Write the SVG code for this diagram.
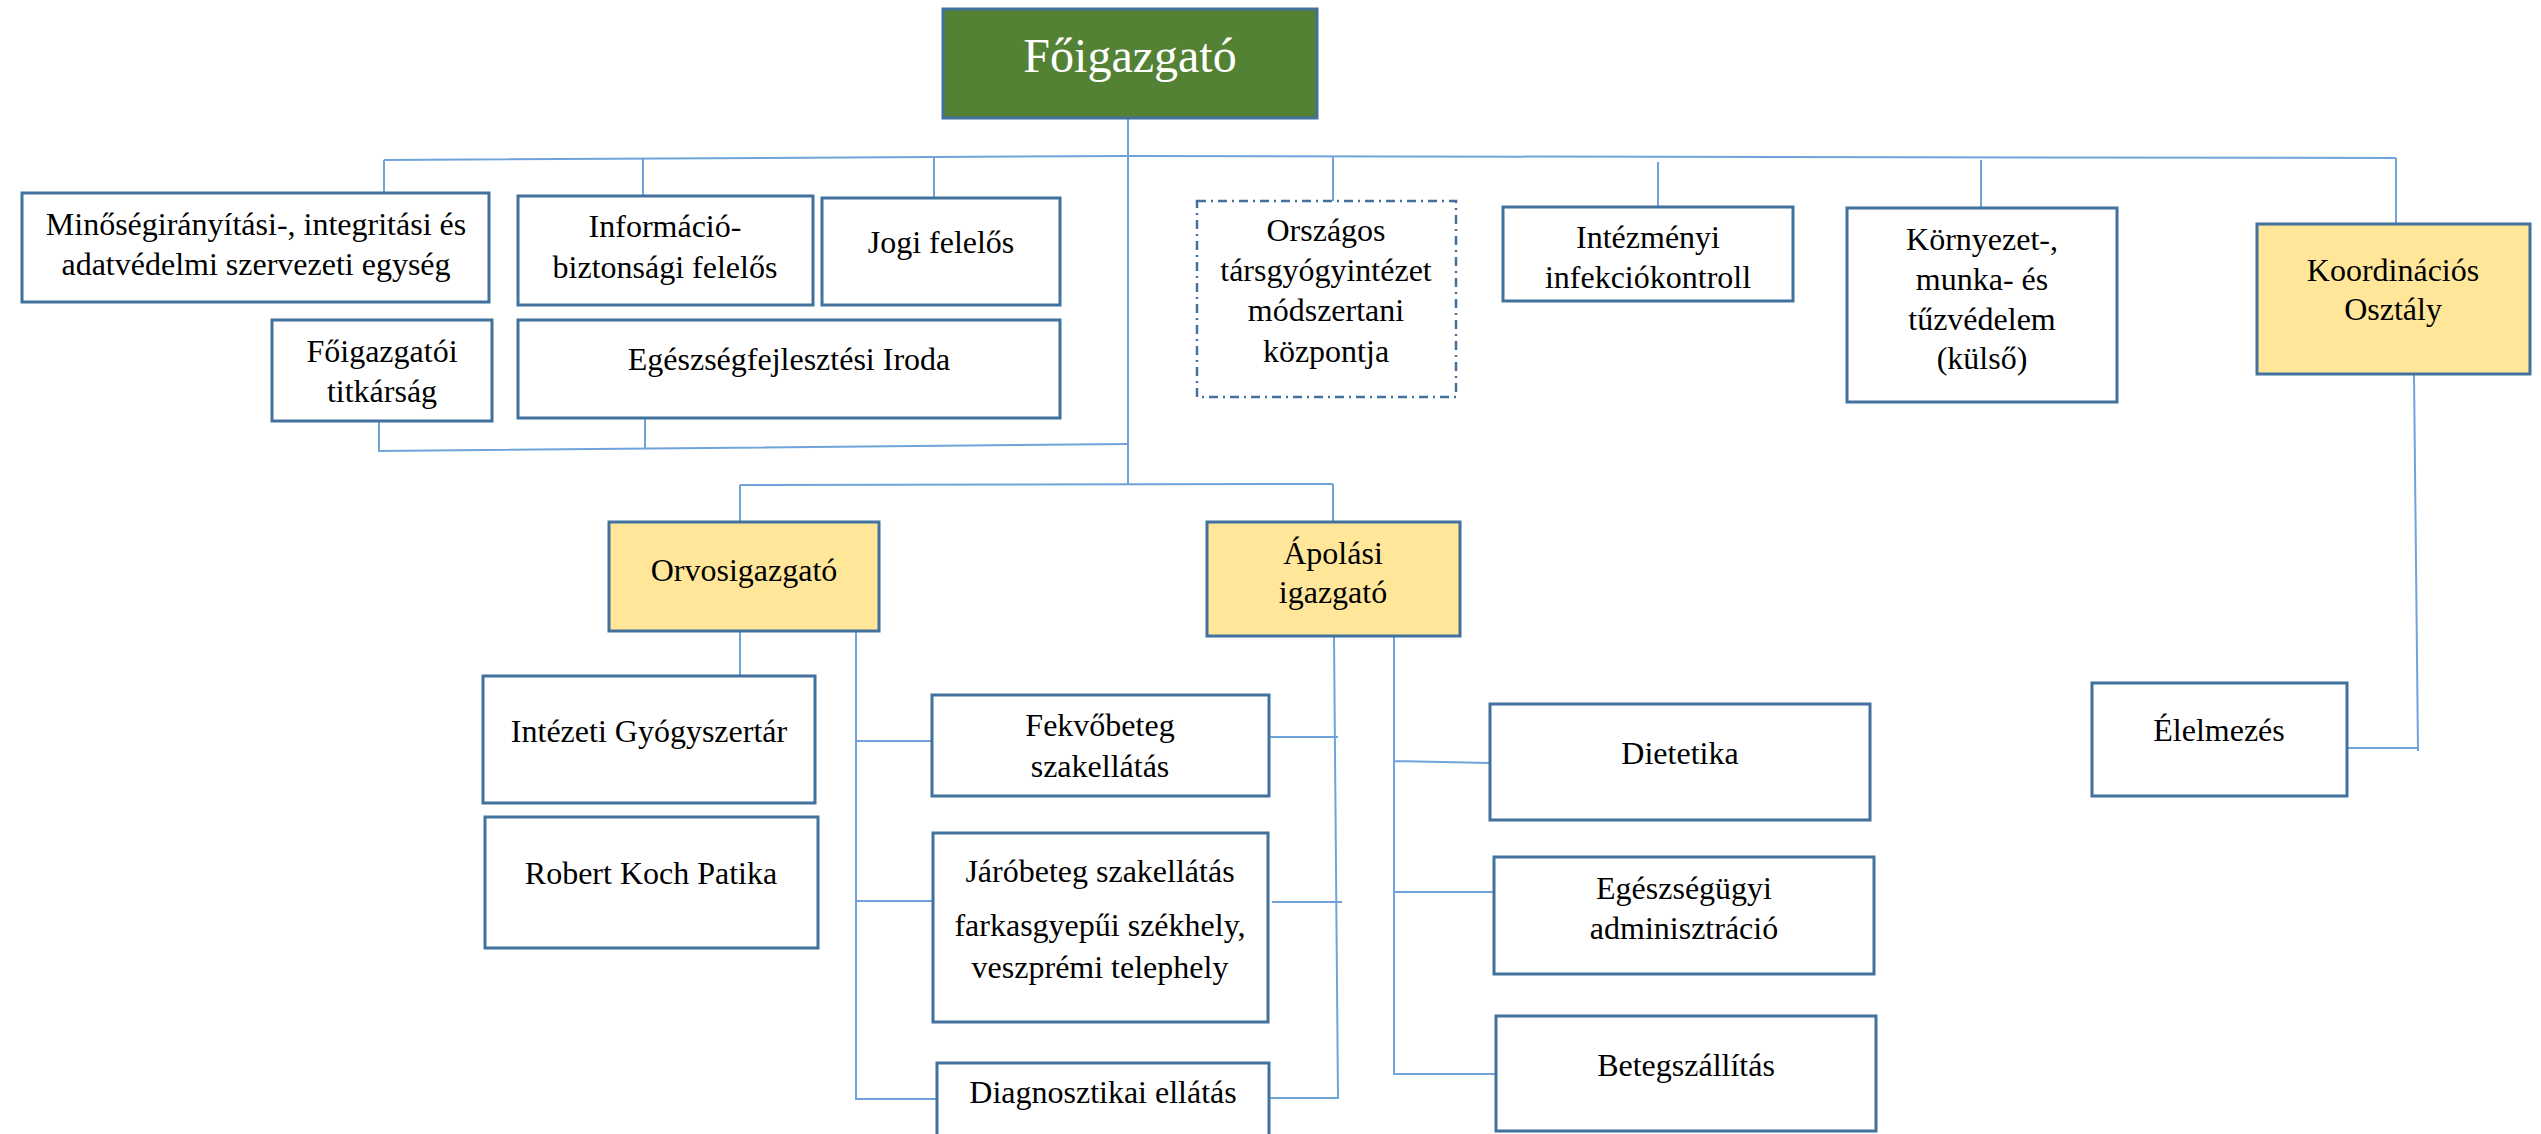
<svg xmlns="http://www.w3.org/2000/svg" width="2541" height="1134" viewBox="0 0 2541 1134">
<style>
.bg{fill:#ffffff}
.box{fill:#ffffff;stroke:#41719C;stroke-width:3}
.yel{fill:#FFE699;stroke:#41719C;stroke-width:3}
.grn{fill:#548235;stroke:#41719C;stroke-width:3}
.dash{fill:#ffffff;stroke:#41719C;stroke-width:2.5;stroke-dasharray:9 5 2 5}
.t{font-family:"Liberation Serif","Times New Roman",serif;font-size:32px;fill:#000000;text-anchor:middle}
.big{font-family:"Liberation Serif","Times New Roman",serif;font-size:48px;fill:#ffffff;text-anchor:middle}
.c{fill:none;stroke:#6FA3DA;stroke-width:2}
</style>
<rect class="bg" x="0" y="0" width="2541" height="1134"/>
<g id="connectors">
<path class="c" d="M1128 118 V485"/>
<path class="c" d="M384 160 L1128 156 L2396 158"/>
<path class="c" d="M384 160 V193 M643 159 V196 M934 158 V198 M1333 157 V201 M1658 162 V207 M1981 160 V208 M2396 158 V224"/>
<path class="c" d="M379 421 V451 L1128 444 M645 418 V449"/>
<path class="c" d="M740 485 L1333 484 M740 485 V522 M1333 484 V522"/>
<path class="c" d="M740 631 V676 M856 631 V1099 H937 M856 741 H932 M856 901 H933"/>
<path class="c" d="M1334 636 L1338 1098 H1269 M1266 737 H1338 M1272 902 H1342"/>
<path class="c" d="M1394 636 V1074 H1496 M1394 761 L1490 763 M1394 892 H1494"/>
<path class="c" d="M2414 374 L2418 751 M2347 748 H2418"/>
</g>
<g id="foigazgato"><rect class="grn" x="943" y="9" width="374" height="109"/><text class="big" x="1130" y="72">Főigazgató</text></g>
<g id="minoseg"><rect class="box" x="22" y="193" width="467" height="109"/><text class="t" x="256" y="235">Minőségirányítási-, integritási és</text><text class="t" x="256" y="275">adatvédelmi szervezeti egység</text></g>
<g id="informacio"><rect class="box" x="518" y="196" width="295" height="109"/><text class="t" x="665" y="237">Információ-</text><text class="t" x="665" y="278">biztonsági felelős</text></g>
<g id="jogi"><rect class="box" x="822" y="198" width="238" height="107"/><text class="t" x="941" y="253">Jogi felelős</text></g>
<g id="titkarsag"><rect class="box" x="272" y="320" width="220" height="101"/><text class="t" x="382" y="362">Főigazgatói</text><text class="t" x="382" y="402">titkárság</text></g>
<g id="egeszsegfejl"><rect class="box" x="518" y="320" width="542" height="98"/><text class="t" x="789" y="370">Egészségfejlesztési Iroda</text></g>
<g id="orszagos"><rect class="dash" x="1197" y="201" width="259" height="196"/><text class="t" x="1326" y="241">Országos</text><text class="t" x="1326" y="281">társgyógyintézet</text><text class="t" x="1326" y="321">módszertani</text><text class="t" x="1326" y="362">központja</text></g>
<g id="intezmenyi"><rect class="box" x="1503" y="207" width="290" height="94"/><text class="t" x="1648" y="248">Intézményi</text><text class="t" x="1648" y="288">infekciókontroll</text></g>
<g id="kornyezet"><rect class="box" x="1847" y="208" width="270" height="194"/><text class="t" x="1982" y="250">Környezet-,</text><text class="t" x="1982" y="290">munka- és</text><text class="t" x="1982" y="330">tűzvédelem</text><text class="t" x="1982" y="369">(külső)</text></g>
<g id="koordinacios"><rect class="yel" x="2257" y="224" width="273" height="150"/><text class="t" x="2393" y="281">Koordinációs</text><text class="t" x="2393" y="320">Osztály</text></g>
<g id="orvosigazgato"><rect class="yel" x="609" y="522" width="270" height="109"/><text class="t" x="744" y="581">Orvosigazgató</text></g>
<g id="apolasi"><rect class="yel" x="1207" y="522" width="253" height="114"/><text class="t" x="1333" y="564">Ápolási</text><text class="t" x="1333" y="603">igazgató</text></g>
<g id="intezeti"><rect class="box" x="483" y="676" width="332" height="127"/><text class="t" x="649" y="742">Intézeti Gyógyszertár</text></g>
<g id="robertkoch"><rect class="box" x="485" y="817" width="333" height="131"/><text class="t" x="651" y="884">Robert Koch Patika</text></g>
<g id="fekvobeteg"><rect class="box" x="932" y="695" width="337" height="101"/><text class="t" x="1100" y="736">Fekvőbeteg</text><text class="t" x="1100" y="777">szakellátás</text></g>
<g id="jarobeteg"><rect class="box" x="933" y="833" width="335" height="189"/><text class="t" x="1100" y="882">Járóbeteg szakellátás</text><text class="t" x="1100" y="936">farkasgyepűi székhely,</text><text class="t" x="1100" y="978">veszprémi telephely</text></g>
<g id="diagnosztikai"><rect class="box" x="937" y="1063" width="332" height="100"/><text class="t" x="1103" y="1103">Diagnosztikai ellátás</text></g>
<g id="dietetika"><rect class="box" x="1490" y="704" width="380" height="116"/><text class="t" x="1680" y="764">Dietetika</text></g>
<g id="egeszsegugyi"><rect class="box" x="1494" y="857" width="380" height="117"/><text class="t" x="1684" y="899">Egészségügyi</text><text class="t" x="1684" y="939">adminisztráció</text></g>
<g id="betegszallitas"><rect class="box" x="1496" y="1016" width="380" height="115"/><text class="t" x="1686" y="1076">Betegszállítás</text></g>
<g id="elelmezes"><rect class="box" x="2092" y="683" width="255" height="113"/><text class="t" x="2219" y="741">Élelmezés</text></g>
</svg>
